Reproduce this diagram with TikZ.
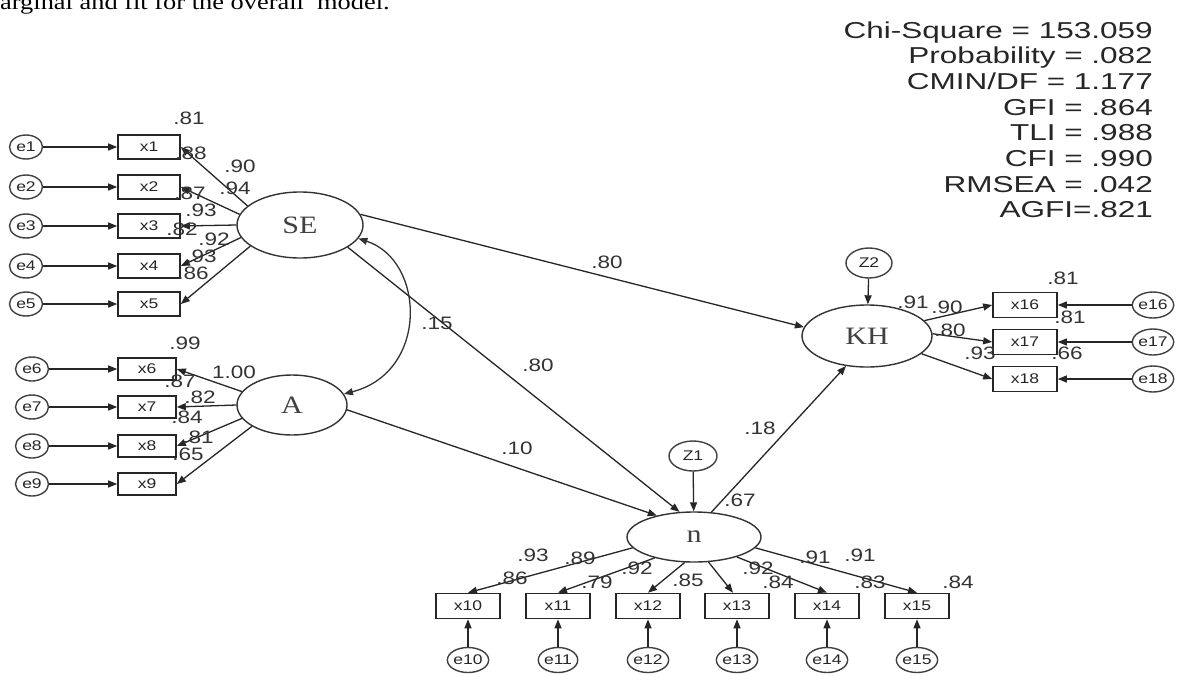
\documentclass[tikz,border=0pt]{standalone}
\usepackage{fontspec}
\usetikzlibrary{shapes.geometric,arrows.meta,calc}
\newfontfamily\numf[FakeStretch=1.25]{Liberation Sans}
\newfontfamily\statf[FakeStretch=1.37]{Liberation Sans}
\newfontfamily\serf[FakeStretch=1.2]{Liberation Serif}
\newfontfamily\docf[FakeStretch=1.2]{Liberation Serif}
\begin{document}
\begin{tikzpicture}[x=1pt,y=-1pt,
 lat/.style={ellipse,draw=black!80,line width=1.4pt,inner sep=0pt,font=\serf\fontsize{25}{25}\selectfont,text=black!75},
 obs/.style={rectangle,draw=black!85,line width=1.6pt,minimum width=62pt,minimum height=24pt,inner sep=0pt,font=\numf\fontsize{14}{14}\selectfont,text=black!85},
 err/.style={ellipse,draw=black!75,line width=1.4pt,minimum width=33pt,minimum height=24pt,inner sep=0pt,font=\numf\fontsize{14}{14}\selectfont,text=black!85},
 lbl/.style={font=\numf\fontsize{18}{18}\selectfont,inner sep=0pt,text=black!80},
 stat/.style={font=\statf\fontsize{23}{23}\selectfont,inner sep=0pt,anchor=base east,text=black!85},
 arr/.style={draw=black!85,line width=1.3pt,-{Triangle[length=9pt,width=7pt]}},
 dbl/.style={draw=black!80,line width=1.3pt,{Triangle[length=9pt,width=7pt]}-{Triangle[length=9pt,width=7pt]}},
]
\useasboundingbox (0,0) rectangle (1177,675);
\clip (0,0) rectangle (1177,675);
\fill[white] (0,0) rectangle (1177,675);

% clipped caption at top
\node[anchor=base west,inner sep=0pt,font=\docf\fontsize{22}{22}\selectfont] (cap) at (0,9) {arginal and fit for the overall\ \ model.};

% fit statistics
\node[stat] (s1) at (1153,38) {Chi-Square = 153.059};
\node[stat] (s2) at (1153,63.7) {Probability = .082};
\node[stat] (s3) at (1153,89.4) {CMIN/DF = 1.177};
\node[stat] (s4) at (1153,115.1) {GFI = .864};
\node[stat] (s5) at (1153,140.8) {TLI = .988};
\node[stat] (s6) at (1153,166.5) {CFI = .990};
\node[stat] (s7) at (1153,192.2) {RMSEA = .042};
\node[stat] (s8) at (1153,217.9) {AGFI=.821};

% latent variables
\node[lat,minimum width=126pt,minimum height=66pt] (SE) at (300,225) {SE};
\node[lat,minimum width=110pt,minimum height=60pt] (A) at (292,405) {A};
\node[lat,minimum width=134pt,minimum height=50pt] (D) at (694,537) {n};
\node[lat,minimum width=130pt,minimum height=62pt] (KH) at (867,336) {KH};
\node[err,minimum width=48pt,minimum height=30pt] (Z1) at (693,456) {Z1};
\node[err,minimum width=46pt,minimum height=30pt] (Z2) at (869,263) {Z2};

% SE indicators
\foreach \i/\y in {1/147,2/187,3/226,4/266,5/304}{
  \node[obs] (x\i) at (149,\y) {x\i};
  \node[err] (e\i) at (26,\y) {e\i};
  \draw[arr] (e\i) -- (x\i);
}
% A indicators
\foreach \i/\y in {6/369,7/407,8/446,9/484}{
  \node[obs,minimum width=58pt,minimum height=22pt] (x\i) at (147,\y) {x\i};
  \node[err] (e\i) at (32,\y) {e\i};
  \draw[arr] (e\i) -- (x\i);
}
% D indicators
\foreach \i/\x in {10/468,11/558,12/648,13/737,14/827,15/917}{
  \node[obs,minimum width=64pt,minimum height=25pt] (x\i) at (\x,606) {x\i};
  \node[err,minimum width=34pt,minimum height=25pt] (e\i) at (\x,660) {e\i};
  \draw[arr] (e\i) -- (x\i);
}
% KH indicators
\foreach \i/\y in {16/305,17/342,18/379}{
  \node[obs,minimum width=64pt,minimum height=25pt] (x\i) at (1025,\y) {x\i};
  \node[err,minimum width=36pt,minimum height=26pt] (e\i) at (1153,\y) {e\i};
  \draw[arr] (e\i) -- (x\i);
}

% loadings SE
\draw[arr] (SE.160) -- (x1.east);
\draw[arr] (SE.170) -- (x2.east);
\draw[arr] (SE.180) -- (x3.east);
\draw[arr] (SE.192) -- (x4.east);
\draw[arr] (SE.203) -- (x5.east);
% loadings A
\draw[arr] (A.165) -- (x6.east);
\draw[arr] (A.180) -- (x7.east);
\draw[arr] (A.195) -- (x8.east);
\draw[arr] (A.208) -- (x9.east);
% loadings D
\draw[arr] (D.190) -- (x10.north);
\draw[arr] (D.208) -- (x11.north);
\draw[arr] (D.250) -- (x12.north);
\draw[arr] (D.300) -- ($(x13.north)+(-4,0)$);
\draw[arr] (D.335) -- (x14.north);
\draw[arr] (D.350) -- (x15.north);
% loadings KH
\draw[arr] (KH.15) -- (x16.west);
\draw[arr] (KH.2) -- (x17.west);
\draw[arr] (KH.-18) -- (x18.west);

% structural paths
\draw[arr] (SE.10) -- (KH.172);
\draw[arr] (SE.-25) -- (D.120);
\draw[arr] (A.-5) -- (D.150);
\draw[arr] (D.55) -- (KH.235);
\draw[arr] (Z1) -- (D);
\draw[arr] (Z2) -- (KH);
\draw[dbl] (SE.-13) .. controls +(67,22) and +(85,-22) .. (A.12);

% path labels
\node[lbl] (p1) at (607,262) {.80};
\node[lbl] (p2) at (437,323) {.15};
\node[lbl] (p3) at (538,365) {.80};
\node[lbl] (p4) at (517,448) {.10};
\node[lbl] (p5) at (760,428) {.18};
\node[lbl] (p6) at (740,500) {.67};

% SE cluster labels
\node[lbl] at (189,118) {.81};
\node[lbl] at (191,153) {.88};
\node[lbl] at (240,166) {.90};
\node[lbl] at (235,188) {.94};
\node[lbl] at (190,193) {.87};
\node[lbl] at (201,210) {.93};
\node[lbl] at (182,229) {.82};
\node[lbl] at (214,239) {.92};
\node[lbl] at (201,256) {.93};
\node[lbl] at (193,273) {.86};

% A cluster labels
\node[lbl] at (185,343) {.99};
\node[lbl] at (234,372) {1.00};
\node[lbl] at (180,381) {.87};
\node[lbl] at (200,397) {.82};
\node[lbl] at (187,417) {.84};
\node[lbl] at (198,437) {.81};
\node[lbl] at (188,454) {.65};

% D cluster labels
\node[lbl] at (533,555) {.93};
\node[lbl] at (580,558) {.89};
\node[lbl] at (512,578) {.86};
\node[lbl] at (597,582) {.79};
\node[lbl] at (637,568) {.92};
\node[lbl] at (688,580) {.85};
\node[lbl] at (758,568) {.92};
\node[lbl] at (778,582) {.84};
\node[lbl] at (815,557) {.91};
\node[lbl] at (860,555) {.91};
\node[lbl] at (870,582) {.83};
\node[lbl] at (958,582) {.84};

% KH cluster labels
\node[lbl] at (1063,278) {.81};
\node[lbl] at (913,302) {.91};
\node[lbl] at (947,307) {.90};
\node[lbl] at (950,330) {.80};
\node[lbl] at (980,353) {.93};
\node[lbl] at (1070,317) {.81};
\node[lbl] at (1067,353) {.66};
\end{tikzpicture}
\end{document}
